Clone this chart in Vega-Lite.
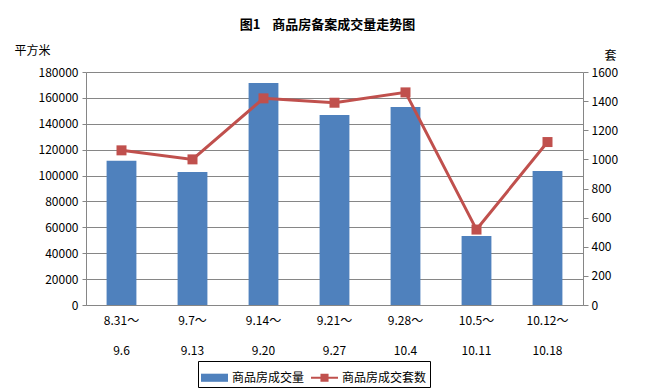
{
  "$schema": "https://vega.github.io/schema/vega-lite/v6.json",
  "width": 497,
  "height": 233,
  "autosize": {"type": "none"},
  "padding": {"left": 86, "top": 72, "right": 70, "bottom": 86},
  "background": "white",
  "title": {
    "text": "图1\u00a0\u00a0\u00a0\u00a0商品房备案成交量走势图",
    "font": "Noto Sans CJK SC",
    "fontSize": 13,
    "fontWeight": "bold",
    "color": "black",
    "offset": 12,
    "dx": -7
  },
  "config": {
    "font": "Noto Sans CJK SC",
    "view": {"stroke": null},
    "axis": {
      "labelFont": "Noto Sans CJK SC",
      "labelFontSize": 12,
      "labelColor": "black",
      "titleFont": "Noto Sans CJK SC",
      "titleFontSize": 12,
      "titleFontWeight": "normal",
      "titleColor": "black",
      "domainColor": "#868686",
      "tickColor": "#868686",
      "gridColor": "#868686"
    }
  },
  "data": {
    "values": [
      {"period": "8.31～|9.6", "area": 111500, "units": 1062},
      {"period": "9.7～|9.13", "area": 102700, "units": 1000},
      {"period": "9.14～|9.20", "area": 171500, "units": 1419},
      {"period": "9.21～|9.27", "area": 146800, "units": 1389},
      {"period": "9.28～|10.4", "area": 153000, "units": 1460},
      {"period": "10.5～|10.11", "area": 53300, "units": 518},
      {"period": "10.12～|10.18", "area": 103500, "units": 1119}
    ]
  },
  "encoding": {
    "x": {
      "field": "period",
      "type": "nominal",
      "sort": null,
      "scale": {"paddingInner": 0.58, "paddingOuter": 0.29},
      "axis": {
        "title": null,
        "labelAngle": 0,
        "labelExpr": "split(datum.label, '|')",
        "labelLineHeight": 30,
        "labelBaseline": "top",
        "labelPadding": 10,
        "ticks": false,
        "domainColor": "#868686"
      }
    }
  },
  "layer": [
    {
      "mark": {"type": "bar"},
      "encoding": {
        "y": {
          "field": "area",
          "type": "quantitative",
          "scale": {"domain": [0, 180000], "nice": false},
          "axis": {
            "title": "平方米",
            "titleAngle": 0,
            "titleX": -72,
            "titleY": -22,
            "titleAlign": "left",
            "titleBaseline": "middle",
            "values": [0, 20000, 40000, 60000, 80000, 100000, 120000, 140000, 160000, 180000],
            "format": "d",
            "grid": true,
            "tickSize": 4,
            "labelPadding": 4
          }
        },
        "color": {
          "datum": "商品房成交量",
          "type": "nominal",
          "scale": {"domain": ["商品房成交量", "商品房成交套数"], "range": ["#4F81BD", "#C0504D"]},
          "legend": {
            "title": null,
            "orient": "none",
            "legendX": 112,
            "legendY": 289,
            "direction": "horizontal",
            "strokeColor": "black",
            "padding": 3,
            "symbolSize": 729,
            "labelFontSize": 12,
            "labelColor": "black",
            "labelFont": "Noto Sans CJK SC",
            "columnPadding": 6,
            "encode": {
              "symbols": {
                "update": {
                  "shape": {"signal": "datum.label == '商品房成交量' ? 'M-1,-0.3H1V0.3H-1Z' : 'M-1,-0.07H1V0.07H-1Z M-0.3,-0.3H0.3V0.3H-0.3Z'"},
                  "fill": {"signal": "datum.label == '商品房成交量' ? '#4F81BD' : '#C0504D'"},
                  "stroke": {"value": null},
                  "strokeWidth": {"value": 0},
                  "opacity": {"value": 1}
                }
              }
            }
          }
        }
      }
    },
    {
      "mark": {
        "type": "line",
        "strokeWidth": 3,
        "point": {"shape": "square", "size": 100, "filled": true, "opacity": 1}
      },
      "encoding": {
        "y": {
          "field": "units",
          "type": "quantitative",
          "scale": {"domain": [0, 1600], "nice": false},
          "axis": {
            "orient": "right",
            "title": "套",
            "titleAngle": 0,
            "titleX": 21,
            "titleY": -17,
            "titleAlign": "left",
            "titleBaseline": "middle",
            "values": [0, 200, 400, 600, 800, 1000, 1200, 1400, 1600],
            "format": "d",
            "grid": false,
            "tickSize": 5,
            "labelPadding": 3
          }
        },
        "color": {"datum": "商品房成交套数", "type": "nominal"}
      }
    }
  ],
  "resolve": {"scale": {"y": "independent"}}
}
